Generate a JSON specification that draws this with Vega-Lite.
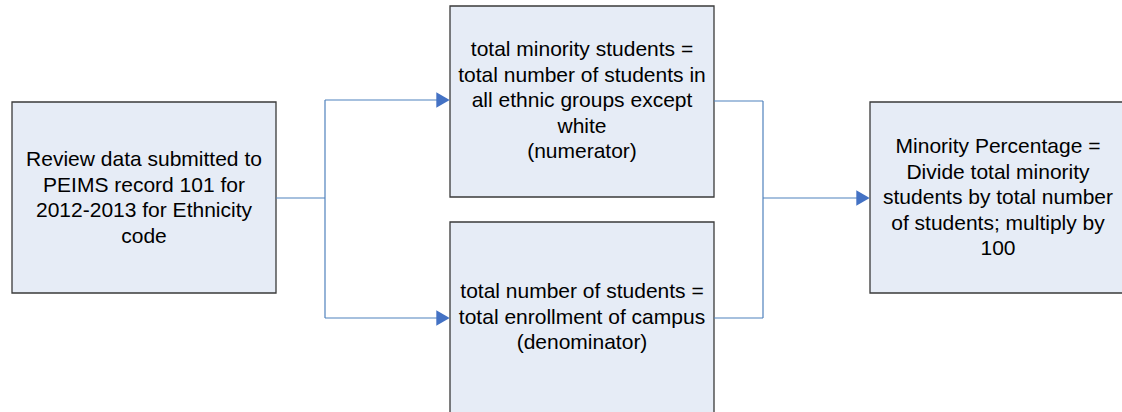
{
  "$schema": "https://vega.github.io/schema/vega-lite/v6.json",
  "width": 1122,
  "height": 412,
  "padding": 0,
  "autosize": {"type": "fit", "contains": "padding"},
  "background": "white",
  "config": {"view": {"stroke": null}},
  "datasets": {
    "boxes": [
      {"id": "review", "x0": 12, "x1": 276, "y0": 102, "y1": 293},
      {"id": "numerator", "x0": 450, "x1": 714, "y0": 6, "y1": 197},
      {"id": "denominator", "x0": 450, "x1": 714, "y0": 222, "y1": 414},
      {"id": "result", "x0": 870, "x1": 1127, "y0": 102, "y1": 293}
    ],
    "links": [
      {"x0": 276, "y0": 198, "x1": 325, "y1": 198},
      {"x0": 325, "y0": 100, "x1": 325, "y1": 318},
      {"x0": 325, "y0": 100, "x1": 440, "y1": 100},
      {"x0": 325, "y0": 318, "x1": 440, "y1": 318},
      {"x0": 714, "y0": 101, "x1": 763, "y1": 101},
      {"x0": 714, "y0": 318, "x1": 763, "y1": 318},
      {"x0": 763, "y0": 101, "x1": 763, "y1": 318},
      {"x0": 763, "y0": 198, "x1": 860, "y1": 198}
    ],
    "arrows": [
      {"x": 443, "y": 100},
      {"x": 443, "y": 318},
      {"x": 863, "y": 198}
    ],
    "labels": [
      {"x": 144, "y": 160, "label": "Review data submitted to\nPEIMS record 101 for\n2012-2013 for Ethnicity\ncode"},
      {"x": 582, "y": 50, "label": "total minority students =\ntotal number of students in\nall ethnic groups except\nwhite\n(numerator)"},
      {"x": 582, "y": 292, "label": "total number of students =\ntotal enrollment of campus\n(denominator)"},
      {"x": 998, "y": 147, "label": "Minority Percentage =\nDivide total minority\nstudents by total number\nof students; multiply by\n100"}
    ]
  },
  "layer": [
    {
      "data": {"name": "boxes"},
      "mark": {"type": "rect", "fill": "#e6ecf6", "stroke": "#3a3a3a", "strokeWidth": 1.3, "clip": true},
      "encoding": {
        "x": {"field": "x0", "type": "quantitative", "scale": {"domain": [0, 1122], "nice": false, "zero": false}, "axis": null},
        "x2": {"field": "x1"},
        "y": {"field": "y0", "type": "quantitative", "scale": {"domain": [0, 412], "nice": false, "zero": false, "reverse": true}, "axis": null},
        "y2": {"field": "y1"}
      }
    },
    {
      "data": {"name": "links"},
      "mark": {"type": "rule", "color": "#4f81bd", "strokeWidth": 1.2},
      "encoding": {
        "x": {"field": "x0", "type": "quantitative", "scale": {"domain": [0, 1122], "nice": false, "zero": false}, "axis": null},
        "x2": {"field": "x1"},
        "y": {"field": "y0", "type": "quantitative", "scale": {"domain": [0, 412], "nice": false, "zero": false, "reverse": true}, "axis": null},
        "y2": {"field": "y1"}
      }
    },
    {
      "data": {"name": "arrows"},
      "mark": {"type": "point", "shape": "triangle-right", "filled": true, "color": "#4472c4", "size": 240, "opacity": 1},
      "encoding": {
        "x": {"field": "x", "type": "quantitative", "scale": {"domain": [0, 1122], "nice": false, "zero": false}, "axis": null},
        "y": {"field": "y", "type": "quantitative", "scale": {"domain": [0, 412], "nice": false, "zero": false, "reverse": true}, "axis": null}
      }
    },
    {
      "data": {"name": "labels"},
      "mark": {"type": "text", "font": "Liberation Sans", "fontSize": 21, "lineHeight": 25.5, "lineBreak": "\n", "align": "center", "baseline": "middle", "color": "#000000"},
      "encoding": {
        "x": {"field": "x", "type": "quantitative", "scale": {"domain": [0, 1122], "nice": false, "zero": false}, "axis": null},
        "y": {"field": "y", "type": "quantitative", "scale": {"domain": [0, 412], "nice": false, "zero": false, "reverse": true}, "axis": null},
        "text": {"field": "label"}
      }
    }
  ]
}
